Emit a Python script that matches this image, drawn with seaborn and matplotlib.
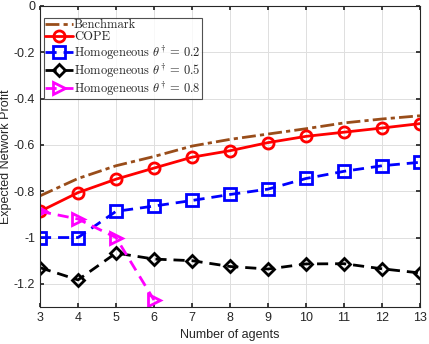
import matplotlib
matplotlib.use("Agg")
import matplotlib.pyplot as plt
import seaborn as sns
import pandas as pd
import numpy as np

agents = [3, 4, 5, 6, 7, 8, 9, 10, 11, 12, 13]
benchmark = [-0.82, -0.745, -0.69, -0.65, -0.605, -0.576, -0.553, -0.53, -0.505, -0.488, -0.474]
cope = [-0.887, -0.806, -0.748, -0.700, -0.653, -0.625, -0.590, -0.563, -0.545, -0.527, -0.508]
homo02 = [-1.0, -1.0, -0.887, -0.864, -0.840, -0.814, -0.791, -0.745, -0.714, -0.690, -0.675]
homo05 = [-1.13, -1.183, -1.067, -1.093, -1.10, -1.125, -1.136, -1.114, -1.113, -1.135, -1.153]
agents08 = [3, 4, 5, 6]
homo08 = [-0.887, -0.92, -1.0, -1.27]

sns.set_theme(style="whitegrid")
plt.rcParams['font.family'] = ['Liberation Sans', 'DejaVu Sans']
plt.rcParams['mathtext.fontset'] = 'cm'

fig = plt.figure(figsize=(4.29, 3.44), dpi=100)
ax = fig.add_axes([40/429, 37/344, 380/429, 301/344])

series = [
    ("Benchmark", agents, benchmark, dict(color=(0.6, 0.3, 0.1), linestyle=(0, (5, 1.5, 1.5, 1.5)), marker=None)),
    ("COPE", agents, cope, dict(color="#ff0000", linestyle="-", marker="o")),
    (r"Homogeneous $\theta^{\dagger}\,=\,0.2$", agents, homo02, dict(color="#0000ff", linestyle=(0, (4, 2.5)), marker="s")),
    (r"Homogeneous $\theta^{\dagger}\,=\,0.5$", agents, homo05, dict(color="#000000", linestyle=(0, (4, 2.5)), marker="D")),
    (r"Homogeneous $\theta^{\dagger}\,=\,0.8$", agents08, homo08, dict(color="#ff00ff", linestyle=(0, (4, 2.5)), marker=">")),
]

for label, xs, ys, st in series:
    df = pd.DataFrame({"x": xs, "y": ys})
    ms = 6 if st["marker"] == "D" else 8
    sns.lineplot(data=df, x="x", y="y", ax=ax, label=label, color=st["color"],
                 linestyle=st["linestyle"], marker=st["marker"], markersize=ms,
                 markerfacecolor="none", markeredgecolor=st["color"], markeredgewidth=2,
                 linewidth=2)

ax.set_xlim(3, 13)
ax.set_ylim(-1.3, 0)
ax.set_xticks(range(3, 14))
ax.set_yticks([0, -0.2, -0.4, -0.6, -0.8, -1.0, -1.2])
ax.set_yticklabels(["0", "-0.2", "-0.4", "-0.6", "-0.8", "-1", "-1.2"])
ax.set_xlabel("Number of agents", fontsize=9, color="#262626")
ax.set_ylabel("Expected Network Profit", fontsize=9, color="#262626")
ax.yaxis.set_label_coords(-0.074, 0.5)
ax.tick_params(axis="both", labelsize=9, colors="#262626", direction="in", length=3,
               top=True, right=True, bottom=True, left=True)
ax.grid(True, color="#dfdfdf", linewidth=0.7)
ax.set_facecolor("white")
for sp in ax.spines.values():
    sp.set_color("#262626")
    sp.set_linewidth(0.8)

leg = ax.legend(loc="upper left", bbox_to_anchor=(4/380, 1 - 12/301), fontsize=9,
                prop={"family": "cmr10", "size": 9}, frameon=True, fancybox=False,
                edgecolor="#262626", borderpad=0.1, labelspacing=0.0,
                handlelength=2.2, handletextpad=0.1, borderaxespad=0.0)
leg.get_frame().set_linewidth(0.8)

fig.savefig("out.png", dpi=100)
